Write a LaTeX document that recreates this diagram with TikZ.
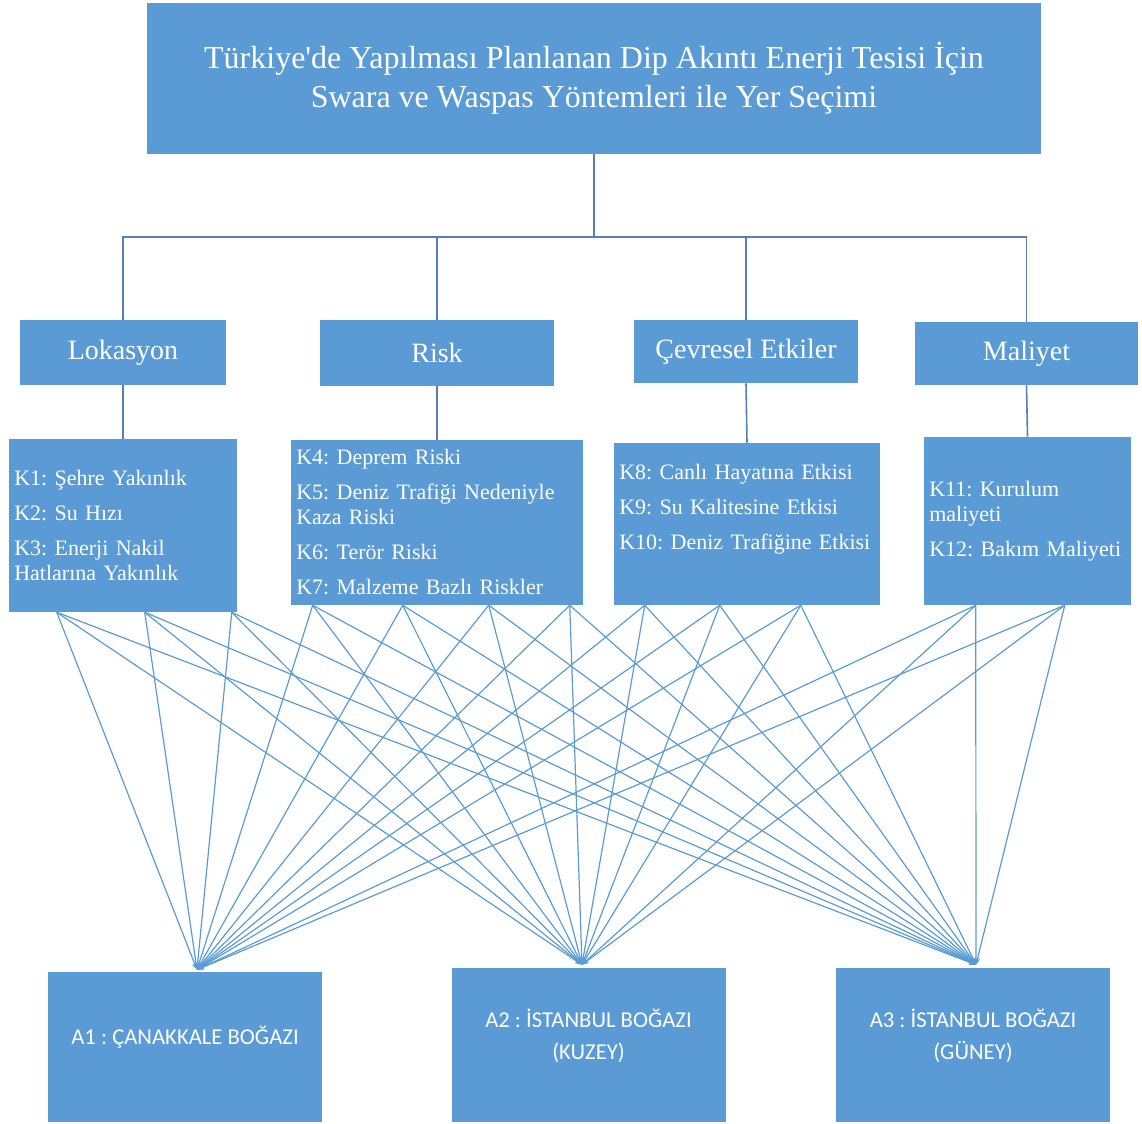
\documentclass[tikz,border=0pt]{standalone}
\usepackage{fontspec}
\setmainfont{Liberation Serif}
\newfontfamily\altfont{Carlito}
\usetikzlibrary{arrows.meta,calc}
\definecolor{boxblue}{RGB}{91,155,213}
\definecolor{treeblue}{RGB}{84,128,180}
\frenchspacing

\begin{document}
\begin{tikzpicture}[x=0.75pt,y=-0.75pt, mybox/.style={rectangle,fill=boxblue,text=white,inner sep=0pt}, cat/.style={mybox,font=\fontsize{21}{25}\selectfont}, crit/.style={mybox,align=left,inner xsep=4pt,font=\fontsize{16.5}{18.75}\selectfont}, alt/.style={mybox,align=center,minimum width=205.5pt,font=\altfont\fontsize{17}{24}\selectfont}, treeline/.style={draw=treeblue,line width=1.2pt}, fanline/.style={draw=boxblue,line width=0.9pt,-{Stealth[length=5pt,width=4pt]}}]
         \useasboundingbox (0,0) rectangle (1142,1124);
         \node[mybox,align=center,minimum width=670.5pt,minimum height=113.25pt,font=\fontsize{24}{29.25}\selectfont] (title) at (594,78.5) {Türkiye\textquotesingle de Yapılması Planlanan Dip Akıntı Enerji Tesisi İçin\\Swara ve Waspas Yöntemleri ile Yer Seçimi};
         \node[cat,minimum width=154.5pt,minimum height=48.75pt] (lok) at (123,352.5) {Lokasyon};
         \node[cat,minimum width=175.5pt,minimum height=49.5pt] (risk) at (437,353) {Risk};
         \node[cat,minimum width=168pt,minimum height=47.25pt] (cev) at (746,351.5) {Çevresel Etkiler};
         \node[cat,minimum width=167.25pt,minimum height=47.25pt] (mal) at (1026.5,353.5) {Maliyet};
         \node[crit,text width=163pt,minimum height=129.75pt] (klok) at (123,525.5) {K1: Şehre Yakınlık\\[7.5pt]K2: Su Hızı\\[7.5pt]K3: Enerji Nakil\\Hatlarına Yakınlık};
         \node[crit,text width=211pt,minimum height=123.75pt] (krisk) at (437,522.5) {K4: Deprem Riski\\[7.5pt]K5: Deniz Trafiği Nedeniyle\\Kaza Riski\\[7.5pt]K6: Terör Riski\\[7.5pt]K7: Malzeme Bazlı Riskler};
         \node[crit,text width=191.5pt,minimum height=121.5pt] (kcev) at (747,524) {K8: Canlı Hayatına Etkisi\\[7.5pt]K9: Su Kalitesine Etkisi\\[7.5pt]\mbox{K10: Deniz Trafiğine Etkisi}\\[7.5pt]\mbox{}};
         \node[crit,text width=147.25pt,minimum height=126pt] (kmal) at (1027.5,521) {K11: Kurulum\\maliyeti\\[7.5pt]\mbox{K12: Bakım Maliyeti}};
         \node[alt,minimum height=112.5pt,text depth=18pt] (a1) at (185,1047) {A1 : ÇANAKKALE BOĞAZI};
         \node[alt,minimum height=115.5pt,text depth=16pt] (a2) at (588.5,1045) {A2 : İSTANBUL BOĞAZI\\(KUZEY)};
         \node[alt,minimum height=115.5pt,text depth=16pt] (a3) at (973,1045) {A3 : İSTANBUL BOĞAZI\\(GÜNEY)};
         \coordinate (bus) at ($(title.south)+(0,83)$);
         \draw[treeline] (title.south) -- (bus);
         \foreach \n in {lok,risk,cev,mal} {
           \draw[treeline] (bus) -| (\n.north);
           \draw[treeline] (\n.south) -- (k\n.north);
         }
         \coordinate (c1) at ($(klok.south west)+(48,0)$);
         \coordinate (c2) at ($(klok.south west)+(136,0)$);
         \coordinate (c3) at ($(klok.south west)+(223,0)$);
         \coordinate (c4) at ($(krisk.south west)+(22,0)$);
         \coordinate (c5) at ($(krisk.south west)+(112,0)$);
         \coordinate (c6) at ($(krisk.south west)+(198,0)$);
         \coordinate (c7) at ($(krisk.south west)+(279,0)$);
         \coordinate (c8) at ($(kcev.south west)+(31,0)$);
         \coordinate (c9) at ($(kcev.south west)+(106,0)$);
         \coordinate (c10) at ($(kcev.south west)+(187,0)$);
         \coordinate (c11) at ($(kmal.south west)+(52,0)$);
         \coordinate (c12) at ($(kmal.south west)+(141,0)$);
         \coordinate (t1) at ($(a1.north)+(12,-2)$);
         \coordinate (t2) at ($(a2.north)+(-6.5,-3)$);
         \coordinate (t3) at ($(a3.north)+(3,-3)$);
         \foreach \c in {1,...,12}
           \foreach \t in {1,2,3}
             \draw[fanline] (c\c) -- (t\t);
\end{tikzpicture}
\end{document}
